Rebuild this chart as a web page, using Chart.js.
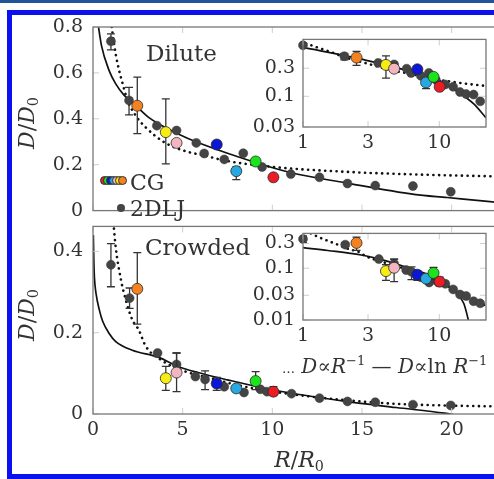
<!DOCTYPE html>
<html>
<head>
<meta charset="utf-8">
<script src="https://cdn.jsdelivr.net/npm/chart.js@4.4.1/dist/chart.umd.min.js"></script>
<style>
html, body { margin: 0; padding: 0; width: 494px; height: 479px; overflow: hidden; background: #fff; }
#strip { position: absolute; left: 0; top: 0; width: 494px; height: 3px; background: #23549a; }
#frame { position: absolute; left: 7px; top: 10px; width: 540px; height: 469px; box-sizing: border-box; border: 5px solid #0b10ee; background: #fff; }
canvas { position: absolute; }
.t { position: absolute; font-family: 'DejaVu Serif', serif; color: #333; white-space: nowrap; line-height: 1; }
.c { position: absolute; transform: translate(-50%, -50%); }
.rot { transform: translate(-50%, -50%) rotate(-90deg); }
sub { font-size: 0.65em; vertical-align: -0.3em; line-height: 0; font-style: normal; }
sup { font-size: 0.65em; vertical-align: 0.6em; line-height: 0; font-style: normal; }
.dot { position: absolute; width: 9px; height: 9px; border-radius: 50%; box-sizing: border-box; border: 0.5px solid #333; }
</style>
</head>
<body>
<div id="strip"></div>
<div id="frame"></div>

<canvas id="cDilute" width="520" height="232" style="left:0;top:0"></canvas>
<canvas id="cCrowded" width="520" height="250" style="left:0;top:205px"></canvas>
<canvas id="cDiluteIns" width="254" height="135" style="left:240px;top:20px"></canvas>
<canvas id="cCrowdedIns" width="254" height="135" style="left:240px;top:214px"></canvas>

<div class="t" style="left:146px;top:42px;font-size:23px">Dilute</div>
<div class="t" style="left:145px;top:236px;font-size:23px">Crowded</div>

<div style="position:absolute;left:100px;top:176px">
  <span class="dot" style="left:0;background:#ea1c24"></span>
  <span class="dot" style="left:3px;background:#1be41b"></span>
  <span class="dot" style="left:6px;background:#0b16d6"></span>
  <span class="dot" style="left:9px;background:#27a8e0"></span>
  <span class="dot" style="left:12px;background:#f3b5bf"></span>
  <span class="dot" style="left:15px;background:#f7ec13"></span>
  <span class="dot" style="left:18px;background:#f58220"></span>
</div>
<div class="t" style="left:130px;top:172px;font-size:22px">CG</div>
<span class="dot" style="left:117px;top:204px;width:8px;height:8px;background:#444;border:none"></span>
<div class="t" style="left:130px;top:198px;font-size:22px">2DLJ</div>

<div class="t c rot" style="left:27px;top:123px;font-size:22px"><i>D</i>/<i>D</i><sub>0</sub></div>
<div class="t c rot" style="left:27px;top:315px;font-size:22px"><i>D</i>/<i>D</i><sub>0</sub></div>
<div class="t c" style="left:299px;top:460px;font-size:22px"><i>R</i>/<i>R</i><sub>0</sub></div>

<div class="t" style="left:282px;top:356px;font-size:20px"><span style="font-size:13px">…</span> <i>D</i>∝<i>R</i><sup>−1</sup> — <i>D</i>∝ln <i>R</i><sup>−1</sup></div>

<script>
// tick labels
const xTicks = [0, 5, 10, 15, 20];
const yTicksDilute = [0, 0.2, 0.4, 0.6, 0.8];
const yTicksCrowded = [0, 0.2, 0.4];
const insetXTicks = [1, 3, 10];
const insetYTicksDilute = [0.03, 0.1, 0.3];
const insetYTicksCrowded = [0.01, 0.03, 0.1, 0.3];

// 2DLJ, dilute
const ljDilR = [1.0, 2.01, 3.56, 4.66, 5.76, 6.2, 7.32, 8.38, 9.43, 11.03, 12.63, 14.19, 15.74, 17.84, 19.95];
const ljDilD = [0.738, 0.48, 0.37, 0.349, 0.295, 0.249, 0.223, 0.25, 0.19, 0.159, 0.145, 0.118, 0.109, 0.107, 0.082];
const ljDilLo = [0.70, 0.417, null, null, null, null, null, null, null, null, null, null, null, null, null];
const ljDilHi = [0.77, 0.537, null, null, null, null, null, null, null, null, null, null, null, null, null];

// 2DLJ, crowded
const ljCrwR = [1.0, 2.04, 3.6, 4.66, 5.71, 6.25, 7.32, 8.42, 9.33, 9.7, 11.07, 12.63, 14.19, 15.74, 17.84, 19.95];
const ljCrwD = [0.367, 0.285, 0.15, 0.122, 0.092, 0.085, 0.067, 0.053, 0.061, 0.055, 0.05, 0.039, 0.031, 0.029, 0.023, 0.021];
const ljCrwLo = [0.313, 0.26, null, 0.1, null, 0.06, null, null, null, null, null, null, null, null, null, null];
const ljCrwHi = [0.419, 0.31, null, 0.15, null, 0.106, null, null, null, null, null, null, null, null, null, null];

// CG
const cgR = [2.47, 4.06, 4.66, 6.9, 7.99, 9.07, 10.06];
const cgColors = ['#f58220', '#f7ec13', '#f3b5bf', '#0b16d6', '#27a8e0', '#1be41b', '#ea1c24'];
const cgDilD = [0.457, 0.342, 0.295, 0.288, 0.172, 0.214, 0.145];
const cgDilLo = [0.335, 0.204, null, null, 0.135, null, null];
const cgDilHi = [0.582, 0.487, null, null, 0.19, null, null];
const cgCrwD = [0.308, 0.088, 0.102, 0.075, 0.063, 0.081, 0.055];
const cgCrwLo = [0.221, 0.058, 0.055, 0.058, 0.055, 0.06, 0.045];
const cgCrwHi = [0.397, 0.117, 0.15, 0.09, 0.07, 0.104, 0.067];

// fitted curves
const lnDilR = [0.25, 0.47, 0.9, 1.26, 1.73, 2.38, 3.14, 4.04, 5.3, 7.5, 11.0, 14.1, 17.9, 19.75, 22.0, 23.5];
const lnDilD = [0.83, 0.72, 0.61, 0.553, 0.503, 0.458, 0.404, 0.362, 0.314, 0.25, 0.166, 0.121, 0.071, 0.057, 0.04, 0.028];
const invDilR = [0.96, 1.06, 1.27, 1.46, 1.64, 1.91, 2.38, 2.92, 4.03, 5.12, 6.2, 7.49, 10.06, 14.4, 17.8, 22.0, 23.5];
const invDilD = [0.85, 0.79, 0.68, 0.61, 0.557, 0.483, 0.414, 0.364, 0.295, 0.26, 0.24, 0.216, 0.19, 0.168, 0.158, 0.15, 0.148];
const lnCrwR = [0.02, 0.05, 0.08, 0.17, 0.36, 0.54, 0.9, 1.27, 2.19, 3.63, 4.75, 5.85, 7.5, 10.06, 14.1, 16.9, 19.6, 20.3];
const lnCrwD = [0.44, 0.37, 0.335, 0.296, 0.255, 0.228, 0.198, 0.178, 0.157, 0.14, 0.117, 0.102, 0.084, 0.059, 0.031, 0.016, 0.002, -0.003];
const invCrwR = [1.14, 1.27, 1.55, 1.82, 2.19, 2.55, 2.94, 3.83, 5.12, 6.2, 8.38, 10.85, 14.1, 16.9, 19.6, 22.0, 23.5];
const invCrwD = [0.47, 0.409, 0.332, 0.282, 0.232, 0.207, 0.167, 0.132, 0.105, 0.092, 0.068, 0.05, 0.034, 0.025, 0.021, 0.019, 0.018];
const lnDilInsR = [1, 2.45, 4.67, 8.2, 9.9, 13.5, 17.9, 22];
const lnDilInsD = [0.68, 0.45, 0.31, 0.225, 0.19, 0.122, 0.074, 0.043];
const lnCrwInsR = [1, 1.52, 2.67, 3.52, 5.53, 8.18, 10.8, 13.5, 15.1, 16.4, 17];
const lnCrwInsD = [0.25, 0.22, 0.18, 0.153, 0.108, 0.076, 0.05, 0.032, 0.021, 0.0095, 0.006];

const FONT = { family: "'DejaVu Serif', serif", size: 19 };
const pts = (xs, ys) => xs.map((x, i) => ({ x: x, y: ys[i] }));

// vertical error bars, drawn just before the markers of their dataset
const errorBars = {
    id: 'errorBars',
    beforeDatasetDraw(chart, args) {
        const ds = chart.data.datasets[args.index];
        if (!ds.errLo) return;
        const ctx = chart.ctx, a = chart.chartArea;
        const sx = chart.scales.x, sy = chart.scales.y;
        ctx.save();
        ctx.beginPath();
        ctx.rect(a.left, a.top, a.right - a.left, a.bottom - a.top);
        ctx.clip();
        ctx.strokeStyle = '#333';
        ctx.lineWidth = 1.3;
        ds.data.forEach(function(p, i) {
            if (ds.errLo[i] == null) return;
            const x = sx.getPixelForValue(p.x);
            const y1 = sy.getPixelForValue(ds.errLo[i]);
            const y2 = sy.getPixelForValue(ds.errHi[i]);
            ctx.beginPath();
            ctx.moveTo(x, y1); ctx.lineTo(x, y2);
            ctx.moveTo(x - 4, y1); ctx.lineTo(x + 4, y1);
            ctx.moveTo(x - 4, y2); ctx.lineTo(x + 4, y2);
            ctx.stroke();
        });
        ctx.restore();
    }
};

// white plot area, faint inner ticks and grey box
const frameBox = {
    id: 'frameBox',
    beforeDatasetsDraw(chart) {
        const a = chart.chartArea, ctx = chart.ctx;
        ctx.save();
        ctx.fillStyle = '#fff';
        ctx.fillRect(a.left, a.top, a.right - a.left, a.bottom - a.top);
        ctx.restore();
    },
    afterDatasetsDraw(chart, args, opts) {
        const a = chart.chartArea, ctx = chart.ctx;
        ctx.save();
        ctx.strokeStyle = '#cfcfcf';
        ctx.lineWidth = 1;
        ctx.beginPath();
        (opts.xt || []).forEach(function(v) {
            const x = chart.scales.x.getPixelForValue(v);
            ctx.moveTo(x, a.bottom); ctx.lineTo(x, a.bottom - 6);
            ctx.moveTo(x, a.top); ctx.lineTo(x, a.top + 6);
        });
        (opts.yt || []).forEach(function(v) {
            const y = chart.scales.y.getPixelForValue(v);
            ctx.moveTo(a.left, y); ctx.lineTo(a.left + 6, y);
            ctx.moveTo(a.right, y); ctx.lineTo(a.right - 6, y);
        });
        ctx.stroke();
        ctx.strokeStyle = '#777';
        ctx.lineWidth = 1.3;
        ctx.strokeRect(a.left, a.top, a.right - a.left, a.bottom - a.top);
        ctx.restore();
    }
};

function axis(type, min, max, tickVals, fitKey, fitVal, pad, show) {
    return {
        type: type, min: min, max: max, display: show,
        afterBuildTicks: function(s) { s.ticks = tickVals.map(function(v) { return { value: v }; }); },
        afterFit: function(s) { s[fitKey] = fitVal; },
        ticks: { font: FONT, color: '#333', padding: pad, autoSkip: false, maxRotation: 0,
                 callback: function(v) { return String(v); } },
        grid: { display: false, drawTicks: false },
        border: { display: false }
    };
}

function curve(xs, ys, dotted) {
    return {
        data: pts(xs, ys), showLine: true, pointRadius: 0,
        borderColor: '#111', borderWidth: dotted ? 2.6 : 1.7,
        borderDash: dotted ? [0.1, 5.6] : [], borderCapStyle: dotted ? 'round' : 'butt',
        cubicInterpolationMode: 'monotone', fill: false, order: 3
    };
}

function markers(ljR, ljD, ljLo, ljHi, cgD, cgLo, cgHi) {
    return [
        { data: pts(ljR, ljD), errLo: ljLo, errHi: ljHi, pointRadius: 4.5,
          pointBackgroundColor: '#444', pointBorderColor: '#3a3a3a', pointBorderWidth: 0.5, clip: false, order: 2 },
        { data: pts(cgR, cgD), errLo: cgLo, errHi: cgHi, pointRadius: 5.5,
          pointBackgroundColor: cgColors, pointBorderColor: '#2a2a2a', pointBorderWidth: 0.8, clip: false, order: 1 }
    ];
}

function panel(id, datasets, xs, ys, padding, tickMarks) {
    return new Chart(document.getElementById(id), {
        type: 'scatter',
        data: { datasets: datasets },
        options: {
            responsive: false, animation: false, devicePixelRatio: 1, events: [],
            layout: { padding: padding },
            plugins: { legend: { display: false }, tooltip: { enabled: false }, frameBox: tickMarks },
            scales: { x: xs, y: ys }
        },
        plugins: [errorBars, frameBox]
    });
}

// main panels
panel('cDilute',
    [curve(lnDilR, lnDilD, false), curve(invDilR, invDilD, true)]
        .concat(markers(ljDilR, ljDilD, ljDilLo, ljDilHi, cgDilD, cgDilLo, cgDilHi)),
    axis('linear', 0, 23.46, xTicks, 'height', 0, 5, false),
    axis('linear', 0, 0.8, yTicksDilute, 'width', 93, 10, true),
    { top: 27, bottom: 13, left: 0, right: 0 },
    { xt: xTicks, yt: yTicksDilute });

panel('cCrowded',
    [curve(lnCrwR, lnCrwD, false), curve(invCrwR, invCrwD, true)]
        .concat(markers(ljCrwR, ljCrwD, ljCrwLo, ljCrwHi, cgCrwD, cgCrwLo, cgCrwHi)),
    axis('linear', 0, 23.46, xTicks, 'height', 41, 5, true),
    axis('linear', 0, 0.4615, yTicksCrowded, 'width', 93, 10, true),
    { top: 14, bottom: 0, left: 0, right: 0 },
    { xt: xTicks, yt: yTicksCrowded });

// log-log insets
panel('cDiluteIns',
    [curve(lnDilInsR, lnDilInsD, false), curve(invDilR, invDilD, true)]
        .concat(markers(ljDilR, ljDilD, ljDilLo, ljDilHi, cgDilD, cgDilLo, cgDilHi)),
    axis('logarithmic', 1, 22, insetXTicks, 'height', 28, 5, true),
    axis('logarithmic', 0.03, 0.93, insetYTicksDilute, 'width', 63, 8, true),
    { top: 15, bottom: 0, left: 0, right: 8 },
    { xt: insetXTicks, yt: insetYTicksDilute });

panel('cCrowdedIns',
    [curve(lnCrwInsR, lnCrwInsD, false), curve(invCrwR, invCrwD, true)]
        .concat(markers(ljCrwR, ljCrwD, ljCrwLo, ljCrwHi, cgCrwD, cgCrwLo, cgCrwHi)),
    axis('logarithmic', 1, 22, insetXTicks, 'height', 29, 5, true),
    axis('logarithmic', 0.01, 0.47, insetYTicksCrowded, 'width', 63, 8, true),
    { top: 15, bottom: 0, left: 0, right: 8 },
    { xt: insetXTicks, yt: insetYTicksCrowded });
</script>
</body>
</html>
